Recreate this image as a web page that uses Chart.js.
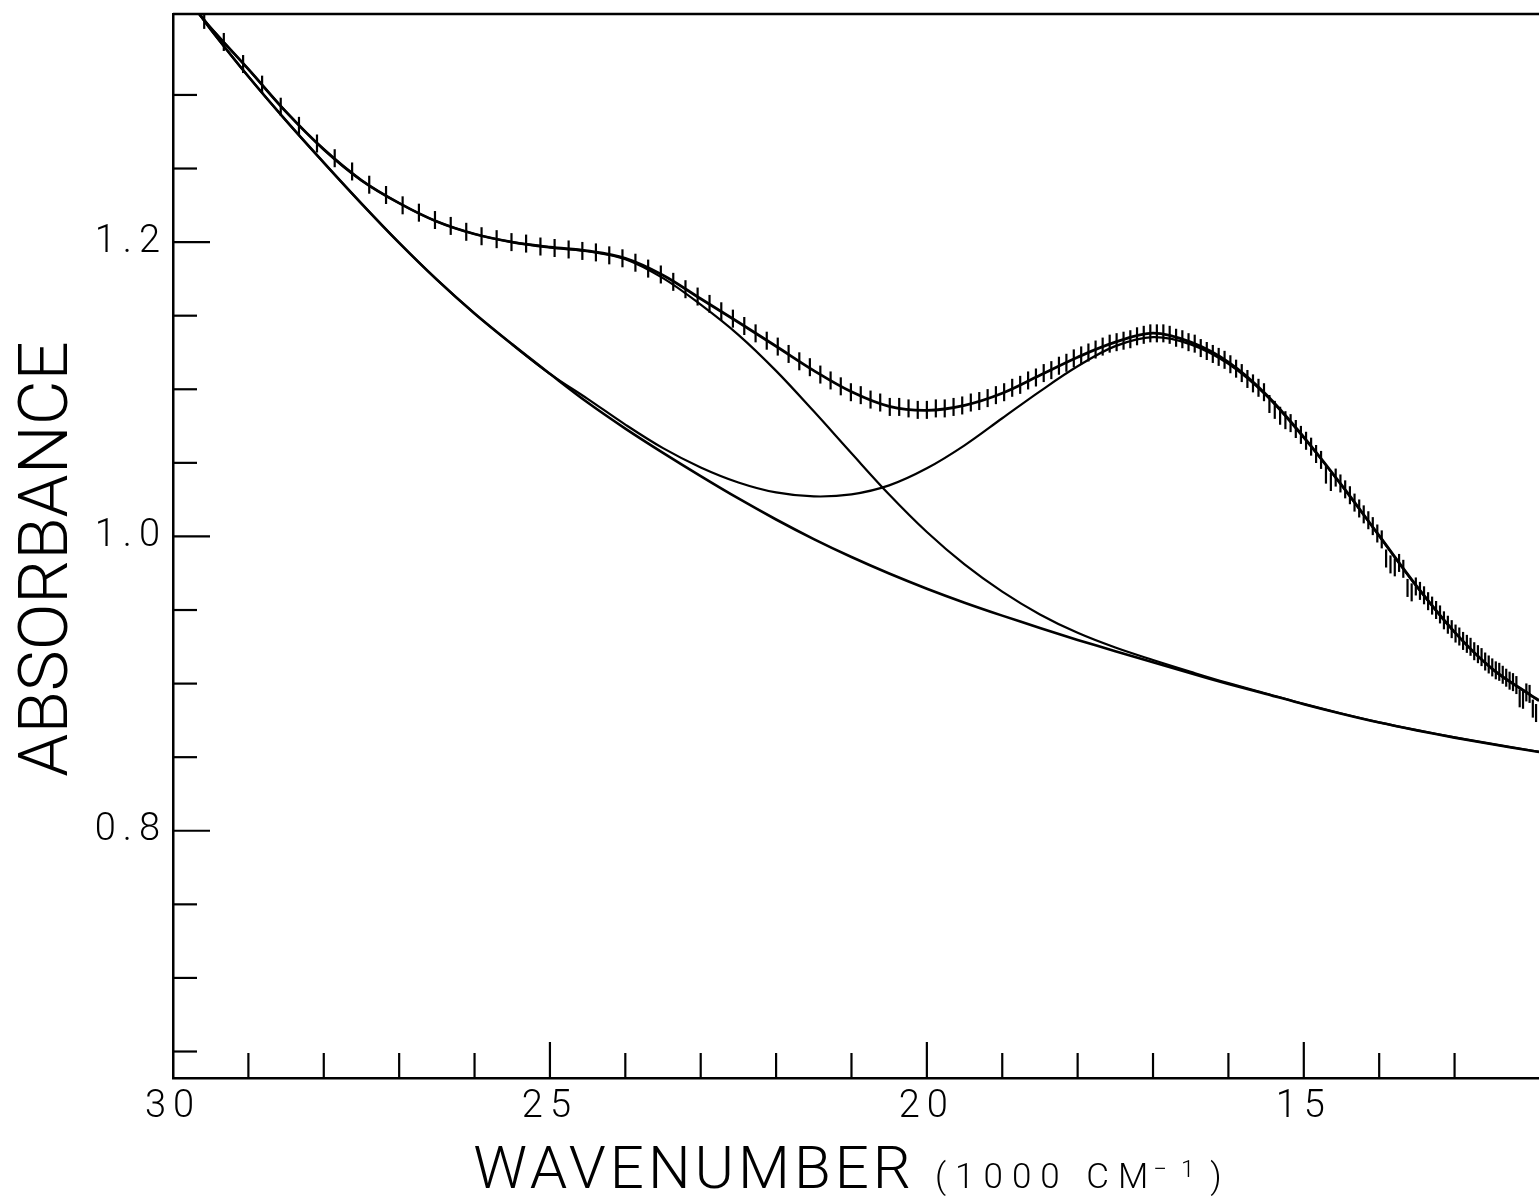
<!DOCTYPE html>
<html>
<head>
<meta charset="utf-8">
<script src="https://cdn.jsdelivr.net/npm/chart.js@4/dist/chart.umd.min.js"></script>
<style>
  html, body { margin: 0; padding: 0; background: #fff; }
  #wrap { width: 1539px; height: 1196px; }
</style>
</head>
<body>
<div id="wrap"><canvas id="c" width="1539" height="1196"></canvas></div>
<script>
// ---------- DATA ----------
// measured spectrum points (wavenumber in 1000 cm-1, absorbance)
const obsWavenumber = [
  29.586, 29.326, 29.070, 28.818, 28.571, 28.329, 28.090, 27.855, 27.624, 27.397,
  27.174, 26.954, 26.738, 26.525, 26.316, 26.110, 25.907, 25.707, 25.510, 25.316,
  25.126, 24.938, 24.752, 24.570, 24.390, 24.213, 24.038, 23.866, 23.697, 23.529,
  23.364, 23.202, 23.041, 22.883, 22.727, 22.573, 22.422, 22.272, 22.124, 21.978,
  21.834, 21.692, 21.552, 21.413, 21.277, 21.142, 21.008, 20.877, 20.747, 20.619,
  20.492, 20.367, 20.243, 20.121, 20.000, 19.881, 19.763, 19.646, 19.531, 19.417,
  19.305, 19.194, 19.084, 18.975, 18.868, 18.762, 18.657, 18.553, 18.450, 18.349,
  18.248, 18.149, 18.051, 17.953, 17.857, 17.762, 17.668, 17.575, 17.483, 17.391,
  17.301, 17.212, 17.123, 17.036, 16.949, 16.863, 16.779, 16.694, 16.611, 16.529,
  16.447, 16.367, 16.287, 16.207, 16.129, 16.051, 15.974, 15.898, 15.823, 15.748,
  15.674, 15.601, 15.528, 15.456, 15.385, 15.314, 15.244, 15.175, 15.106, 15.038,
  14.970, 14.903, 14.837, 14.771, 14.706, 14.641, 14.577, 14.514, 14.451, 14.388,
  14.327, 14.265, 14.205, 14.144, 14.085, 14.025, 13.966, 13.908, 13.850, 13.793,
  13.736, 13.680, 13.624, 13.569, 13.514, 13.459, 13.405, 13.351, 13.298, 13.245,
  13.193, 13.141, 13.089, 13.038, 12.987, 12.937, 12.887, 12.837, 12.788, 12.739,
  12.690, 12.642, 12.594, 12.547, 12.500, 12.453, 12.407, 12.361, 12.315, 12.270,
  12.225, 12.180, 12.136, 12.092, 12.048, 12.005, 11.962, 11.919
];
const obsAbsorbance = [
  1.351, 1.336, 1.321, 1.307, 1.292, 1.279, 1.267, 1.257, 1.248, 1.239,
  1.232, 1.225, 1.220, 1.215, 1.211, 1.207, 1.204, 1.202, 1.200, 1.199,
  1.197, 1.196, 1.195, 1.194, 1.193, 1.191, 1.189, 1.186, 1.182, 1.178,
  1.173, 1.168, 1.163, 1.158, 1.153, 1.148, 1.143, 1.138, 1.133, 1.129,
  1.124, 1.119, 1.115, 1.110, 1.106, 1.102, 1.098, 1.096, 1.093, 1.091,
  1.088, 1.088, 1.087, 1.086, 1.086, 1.087, 1.087, 1.088, 1.089, 1.091,
  1.092, 1.094, 1.096, 1.098, 1.101, 1.103, 1.106, 1.108, 1.111, 1.113,
  1.116, 1.118, 1.121, 1.123, 1.125, 1.127, 1.129, 1.131, 1.132, 1.133,
  1.134, 1.136, 1.137, 1.138, 1.138, 1.138, 1.137, 1.135, 1.134, 1.132,
  1.131, 1.128, 1.126, 1.124, 1.122, 1.120, 1.117, 1.114, 1.111, 1.107,
  1.104, 1.101, 1.098, 1.090, 1.086, 1.082, 1.079, 1.077, 1.073, 1.069,
  1.065, 1.061, 1.056, 1.052, 1.042, 1.037, 1.040, 1.036, 1.032, 1.028,
  1.023, 1.019, 1.015, 1.011, 1.007, 1.002, 0.998, 0.985, 0.981, 0.979,
  0.982, 0.978, 0.965, 0.962, 0.966, 0.963, 0.960, 0.956, 0.953, 0.950,
  0.947, 0.943, 0.940, 0.937, 0.934, 0.932, 0.929, 0.927, 0.925, 0.922,
  0.920, 0.918, 0.915, 0.913, 0.911, 0.909, 0.908, 0.906, 0.904, 0.902,
  0.901, 0.899, 0.890, 0.889, 0.894, 0.893, 0.883, 0.880
];

// smooth curves sampled along wavenumber
const curveWavenumber = [29.65, 29.5, 29, 28.5, 28, 27.5, 27, 26.5, 26, 25.5, 25, 24.5, 24, 23.5, 23, 22.5, 22, 21.5, 21, 20.5, 20, 19.5, 19, 18.5, 18, 17.5, 17, 16.5, 16, 15.5, 15, 14.5, 14, 13.5, 13, 12.5, 12, 11.88];
const fitAbsorbance = [1.355, 1.3456, 1.3175, 1.2885, 1.2630, 1.2420, 1.2265, 1.2140, 1.2055, 1.2000, 1.1965, 1.1940, 1.1890, 1.1775, 1.1615, 1.1455, 1.1292, 1.1127, 1.0983, 1.0884, 1.0857, 1.0891, 1.0973, 1.1095, 1.1218, 1.132, 1.1381, 1.132, 1.1184, 1.0965, 1.0675, 1.0350, 1.0005, 0.9660, 0.9350, 0.9100, 0.8925, 0.8885];
const band1Absorbance = [1.355, 1.3456, 1.3175, 1.2885, 1.2630, 1.2420, 1.2265, 1.2140, 1.2055, 1.2000, 1.1965, 1.1938, 1.1884, 1.1755, 1.1575, 1.1370, 1.1125, 1.0850, 1.0565, 1.0285, 1.0030, 0.9810, 0.9625, 0.9470, 0.9345, 0.9245, 0.9160, 0.9080, 0.9003, 0.8933, 0.8862, 0.8797, 0.8737, 0.8684, 0.8635, 0.8590, 0.8547, 0.8537];
const band2Absorbance = [1.355, 1.3445, 1.3125, 1.2825, 1.2540, 1.2262, 1.1995, 1.1745, 1.1515, 1.1305, 1.1105, 1.0935, 1.0760, 1.0600, 1.0469, 1.0367, 1.0299, 1.0272, 1.0286, 1.0347, 1.0463, 1.0619, 1.0803, 1.0986, 1.1156, 1.1293, 1.1354, 1.1305, 1.1172, 1.0958, 1.0670, 1.0347, 1.0003, 0.9658, 0.9349, 0.9099, 0.8924, 0.8884];
const baselineAbsorbance = [1.355, 1.3445, 1.3125, 1.2825, 1.2540, 1.2262, 1.1995, 1.1745, 1.1515, 1.1305, 1.1105, 1.0910, 1.0733, 1.0568, 1.0410, 1.0258, 1.0115, 0.9982, 0.9860, 0.9748, 0.9645, 0.9550, 0.9462, 0.9378, 0.9297, 0.9220, 0.9145, 0.9070, 0.8998, 0.8930, 0.8860, 0.8795, 0.8735, 0.8682, 0.8633, 0.8588, 0.8545, 0.8535];

// axis ticks / labels
const xMajorTicks = [30, 25, 20, 15];
const yMajorTicks = [0.8, 1.0, 1.2];
const xTitleMain = 'WAVENUMBER';
const xTitleUnit = '(1000 CM';
const xTitleSup = '\u22121';
const xTitleClose = ')';
const yTitleText = 'ABSORBANCE';

// ---------- CHART ----------
const FAMILY = 'Roboto, "DejaVu Sans", sans-serif';
const toXY = (xs, ys) => xs.slice(0, Math.min(xs.length, ys.length)).map((x, i) => ({ x: x, y: ys[i] }));
const isIn = (arr, v) => arr.some(m => Math.abs(m - v) < 1e-6);

const lineDs = (label, ys, width) => ({
  type: 'line', label: label, data: toXY(curveWavenumber, ys),
  borderColor: '#000', borderWidth: width, pointRadius: 0, tension: 0.35, fill: false
});

const axisDecor = {
  id: 'axisDecor',
  beforeDraw(chart) {
    chart.ctx.letterSpacing = '7px';
  },
  afterDraw(chart) {
    const { ctx, chartArea: a, scales: { x, y } } = chart;
    ctx.save();
    ctx.strokeStyle = '#000';
    ctx.lineCap = 'butt';
    // top frame line
    ctx.lineWidth = 2.5;
    ctx.beginPath(); ctx.moveTo(a.left, a.top); ctx.lineTo(a.right, a.top); ctx.stroke();
    // x ticks (inward)
    ctx.lineWidth = 2.2;
    x.ticks.forEach(t => {
      const v = t.value;
      if (Math.abs(v - Math.round(v)) > 1e-6) return;
      const px = x.getPixelForValue(v);
      if (px <= a.left + 3 || px >= a.right - 12) return;
      const len = isIn(xMajorTicks, v) ? 36 : 25;
      ctx.beginPath(); ctx.moveTo(px, a.bottom); ctx.lineTo(px, a.bottom - len); ctx.stroke();
    });
    // y ticks (inward)
    y.ticks.forEach(t => {
      const v = t.value;
      const py = y.getPixelForValue(v);
      if (py <= a.top + 12 || py >= a.bottom - 3) return;
      const len = isIn(yMajorTicks, v) ? 37 : 24;
      ctx.beginPath(); ctx.moveTo(a.left, py); ctx.lineTo(a.left + len, py); ctx.stroke();
    });
    ctx.fillStyle = '#000';
    // y title, rotated
    ctx.save();
    ctx.font = '300 69px ' + FAMILY;
    ctx.letterSpacing = '0px';
    ctx.textAlign = 'center';
    ctx.textBaseline = 'middle';
    ctx.translate(50, (a.top + a.bottom) / 2 + 13);
    ctx.rotate(-Math.PI / 2);
    ctx.fillText(yTitleText, 0, 0);
    ctx.restore();
    // x title: big word + small unit with superscript
    ctx.textAlign = 'left';
    ctx.textBaseline = 'alphabetic';
    const fMain = '300 60px ' + FAMILY, fUnit = '300 35px ' + FAMILY, fSup = '300 24px ' + FAMILY;
    const sMain = '4px', sUnit = '9px', sSup = '14px';
    ctx.font = fMain; ctx.letterSpacing = sMain;
    const w1 = ctx.measureText(xTitleMain).width;
    ctx.font = fUnit; ctx.letterSpacing = sUnit;
    const w2 = ctx.measureText(xTitleUnit).width;
    const w4 = ctx.measureText(xTitleClose).width;
    ctx.font = fSup; ctx.letterSpacing = sSup;
    const w3 = ctx.measureText(xTitleSup).width;
    const g1 = 20, g2 = -4, g3 = 2;
    const total = w1 + g1 + w2 + g2 + w3 + g3 + w4;
    let cx = (x.left + x.right) / 2 - total / 2 - 4;
    const base = x.bottom - 8;
    ctx.font = fMain; ctx.letterSpacing = sMain;
    ctx.fillText(xTitleMain, cx, base); cx += w1 + g1;
    ctx.font = fUnit; ctx.letterSpacing = sUnit;
    ctx.fillText(xTitleUnit, cx, base); cx += w2 + g2;
    ctx.font = fSup; ctx.letterSpacing = sSup;
    ctx.fillText(xTitleSup, cx, base - 11); cx += w3 + g3;
    ctx.font = fUnit; ctx.letterSpacing = sUnit;
    ctx.fillText(xTitleClose, cx, base);
    ctx.restore();
  }
};

new Chart(document.getElementById('c'), {
  type: 'scatter',
  data: {
    datasets: [
      lineDs('Baseline', baselineAbsorbance, 2.6),
      lineDs('Band 2 + baseline', band2Absorbance, 2.2),
      lineDs('Band 1 + baseline', band1Absorbance, 2.2),
      lineDs('Fit', fitAbsorbance, 2.8),
      {
        type: 'scatter', label: 'Observed', data: toXY(obsWavenumber, obsAbsorbance),
        showLine: false, pointStyle: 'line', rotation: 90, pointRadius: 9,
        borderColor: '#000', backgroundColor: '#000', borderWidth: 2.2, pointHoverRadius: 9
      }
    ]
  },
  options: {
    responsive: false,
    animation: false,
    devicePixelRatio: 1,
    layout: { autoPadding: false, padding: { top: 14, right: 0, left: 0, bottom: 0 } },
    plugins: { legend: { display: false }, tooltip: { enabled: false } },
    scales: {
      x: {
        type: 'linear', position: 'bottom', reverse: true,
        min: 11.88, max: 30,
        grid: { display: true, drawOnChartArea: false, drawTicks: false },
        border: { display: true, color: '#000', width: 2.5 },
        ticks: {
          stepSize: 1, autoSkip: false, maxRotation: 0, includeBounds: false,
          padding: 7, color: '#000',
          font: { family: FAMILY, size: 38, weight: '300' },
          callback: (v) => isIn(xMajorTicks, v) ? String(Math.round(v)) : ''
        },
        afterFit: (s) => { s.height = 118; s.paddingLeft = 0; s.paddingRight = 0; }
      },
      y: {
        type: 'linear', position: 'left',
        min: 0.632, max: 1.355,
        grid: { display: true, drawOnChartArea: false, drawTicks: false },
        border: { display: true, color: '#000', width: 2.5 },
        title: { display: false, text: yTitleText },
        ticks: {
          stepSize: 0.05, autoSkip: false, includeBounds: false,
          padding: 6, color: '#000',
          font: { family: FAMILY, size: 38, weight: '300' },
          callback: (v) => isIn(yMajorTicks, v) ? v.toFixed(1) : ''
        },
        afterFit: (s) => { s.width = 173; s.paddingTop = 0; s.paddingBottom = 0; }
      }
    }
  },
  plugins: [axisDecor]
});
</script>
</body>
</html>
